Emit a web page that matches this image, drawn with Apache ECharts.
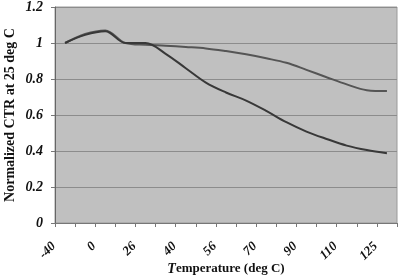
<!DOCTYPE html>
<html>
<head>
<meta charset="utf-8">
<script src="https://cdn.jsdelivr.net/npm/echarts@6/dist/echarts.min.js"></script>
<style>html,body{margin:0;padding:0;background:#fff}#c{width:400px;height:278px}</style>
</head>
<body>
<div id="c"></div>
<script>
var categories = ['-40','-20','0','10','26','30','40','50','56','60','70','80','90','100','110','120','125'];
var seriesA = [1.0, 1.05, 1.07, 1.0, 0.99, 0.985, 0.978, 0.97, 0.955, 0.937, 0.915, 0.89, 0.851, 0.81, 0.77, 0.738, 0.733];
var seriesB = [1.0, 1.045, 1.065, 1.0, 1.0, 0.94, 0.86, 0.78, 0.725, 0.68, 0.623, 0.56, 0.508, 0.467, 0.43, 0.405, 0.388];
var yTicks = {min: 0, max: 1.2, interval: 0.2};

var serif = 'Liberation Serif';
var chart = echarts.init(document.getElementById('c'));
chart.setOption({
  animation: false,
  grid: {left: 55, right: 3, top: 7, bottom: 55, containLabel: false, outerBoundsMode: 'none',
    show: true, backgroundColor: '#c0c0c0', borderColor: '#9a9a9a', borderWidth: 1},
  xAxis: {
    type: 'category',
    data: categories,
    boundaryGap: true,
    name: '{t|T}emperature (deg C)',
    nameLocation: 'middle',
    nameGap: 39,
    nameMoveOverlap: false,
    nameTextStyle: {fontFamily: serif, fontWeight: 'bold', fontSize: 13, color: '#111',
      rich: {t: {fontFamily: serif, fontWeight: 'bold', fontStyle: 'italic', fontSize: 14, color: '#111'}}},
    axisLine: {lineStyle: {color: '#777', width: 1}},
    axisTick: {show: true, interval: 0, length: 4, lineStyle: {color: '#777'}},
    axisLabel: {interval: 1, rotate: 45, margin: 10, padding: [0, 16, 0, 0],
      fontFamily: serif, fontWeight: 'bold', fontStyle: 'italic', fontSize: 13, color: '#111'},
    splitLine: {show: false}
  },
  yAxis: {
    type: 'value',
    min: yTicks.min, max: yTicks.max, interval: yTicks.interval,
    name: 'Normalized CTR at 25 deg C',
    nameLocation: 'middle',
    nameGap: 38,
    nameMoveOverlap: false,
    nameTextStyle: {fontFamily: serif, fontWeight: 'bold', fontSize: 14, color: '#111'},
    axisLine: {show: true, lineStyle: {color: '#666', width: 1}},
    axisTick: {show: true, length: 4, lineStyle: {color: '#777'}},
    axisLabel: {margin: 12, fontFamily: serif, fontWeight: 'bold', fontStyle: 'italic', fontSize: 14, color: '#111'},
    splitLine: {show: true, lineStyle: {color: '#8c8c8c', width: 1}}
  },
  series: [
    {type: 'line', data: seriesA, smooth: 0.35, symbol: 'none', lineStyle: {color: '#555', width: 2}},
    {type: 'line', data: seriesB, smooth: 0.35, symbol: 'none', lineStyle: {color: '#383838', width: 2}}
  ]
});
</script>
</body>
</html>
